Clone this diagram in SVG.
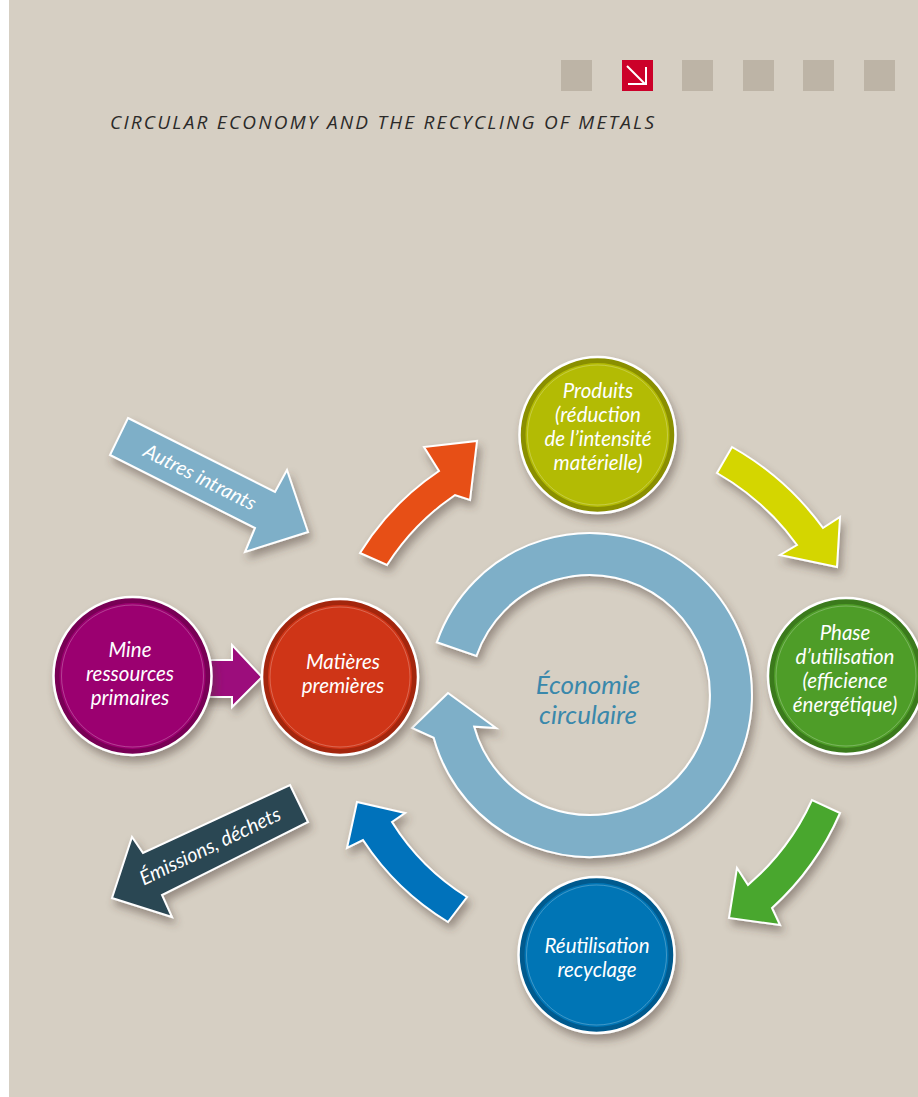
<svg xmlns="http://www.w3.org/2000/svg" width="918" height="1097" viewBox="0 0 918 1097">
<defs>
<filter id="sh" x="-20%" y="-20%" width="150%" height="150%">
<feDropShadow dx="3" dy="6" stdDeviation="4" flood-color="#4a3c30" flood-opacity="0.45"/>
</filter>
<style>
.arr{stroke:#fff;stroke-width:2;stroke-linejoin:miter;filter:url(#sh)}
.lbl{font-family:Lato,"Open Sans","Noto Sans",sans-serif;font-style:italic;fill:#fff;text-anchor:middle}
.ct{font-size:20.5px}
.al{font-size:20px}
.cc{fill:#3a88ab;font-size:26px}
.rim{stroke:#fff;stroke-width:2.5;filter:url(#sh)}
.hl{fill:none;stroke:#fff;stroke-opacity:0.25;stroke-width:1}
.sq{fill:#bdb4a6}
</style>
</defs>
<rect x="0" y="0" width="918" height="1097" fill="#fff"/>
<rect x="9" y="0" width="909" height="1097" fill="#d6cfc3"/>
<g id="header">
<rect class="sq" x="561" y="60" width="31" height="31"/>
<rect x="622" y="60" width="31" height="31" fill="#cc0029"/>
<path d="M627 66 L645 84 M646 67 L646 84 L628 84" fill="none" stroke="#fff" stroke-width="2"/>
<rect class="sq" x="682" y="60" width="31" height="31"/>
<rect class="sq" x="743" y="60" width="31" height="31"/>
<rect class="sq" x="803" y="60" width="31" height="31"/>
<rect class="sq" x="864" y="60" width="31" height="31"/>
<text x="110" y="129" font-family="'Open Sans','Noto Sans',sans-serif" font-style="italic" font-size="19" fill="#2b2a29" textLength="544" lengthAdjust="spacing">CIRCULAR ECONOMY AND THE RECYCLING OF METALS</text>
</g>
<g id="connectors">
<path id="ring" class="arr" fill="#7eafc8" d="M436.8 642.3 A162 162 0 1 1 433.7 737.8 L412 728 L448 693 L496 728 L474.2 726.7 A120 120 0 1 0 476.5 655.9 Z"/>
<path id="arrow-orange" class="arr" fill="#e75017" d="M360 553 A270 270 0 0 1 439 471 L424 447 L477 441 L470 500 L455 495 A241 241 0 0 0 387 565 Z"/>
<path id="arrow-yellow" class="arr" fill="#d4d600" d="M732 447 A286 286 0 0 1 823 528 L840 517 L837 567 L780 555 L797 545 A256 256 0 0 0 717 473 Z"/>
<path id="arrow-green" class="arr" fill="#4aa72e" d="M840 813 A276 276 0 0 1 772 908 L780 925 L729 918 L737 868 L748 885 A246 246 0 0 0 812 800 Z"/>
<path id="arrow-blue" class="arr" fill="#0072bb" d="M448 922 A268 268 0 0 1 363 840 L347 848 L357 802 L405 813 L392 822 A236 236 0 0 0 467 897 Z"/>
<path id="arrow-magenta" class="arr" fill="#9c0b7c" d="M200 660 L232 660 L232 645 L262 677 L232 707 L232 697 L200 697 Z"/>
<g id="autres-intrants">
<path class="arr" fill="#7eafc8" d="M128 418 L275 492 L287 470 L308 532 L245 552 L255 528 L110 455 Z"/>
<text class="lbl al" transform="translate(200,477) rotate(26.7)" y="7">Autres intrants</text>
</g>
<g id="emissions">
<path class="arr" fill="#2c4653" d="M290 785 L308 822 L162 895 L172 917 L112 898 L132 837 L143 853 Z"/>
<text class="lbl al" transform="translate(210,846) rotate(-25.7)" y="7">Émissions, déchets</text>
</g>
</g>
<g id="center-label">
<text class="lbl cc" x="588" y="694">Économie</text>
<text class="lbl cc" x="588" y="724">circulaire</text>
</g>
<g id="node-mine">
<circle class="rim" cx="132.5" cy="676" r="79" fill="#780055"/>
<circle cx="132.5" cy="676" r="73" fill="#9b0070"/>
<circle class="hl" cx="132.5" cy="676" r="71"/>
<text class="lbl ct" x="130" y="657">Mine</text>
<text class="lbl ct" x="130" y="681">ressources</text>
<text class="lbl ct" x="130" y="705">primaires</text>
</g>
<g id="node-matieres">
<circle class="rim" cx="340" cy="677" r="78" fill="#a3260f"/>
<circle cx="340" cy="677" r="72" fill="#cf3517"/>
<circle class="hl" cx="340" cy="677" r="70"/>
<text class="lbl ct" x="343" y="669">Matières</text>
<text class="lbl ct" x="343" y="693">premières</text>
</g>
<g id="node-produits">
<circle class="rim" cx="597.5" cy="435" r="78" fill="#8a8f00"/>
<circle cx="597.5" cy="435" r="72" fill="#b3bb04"/>
<circle class="hl" cx="597.5" cy="435" r="70"/>
<text class="lbl ct" x="598" y="398">Produits</text>
<text class="lbl ct" x="598" y="422">(réduction</text>
<text class="lbl ct" x="598" y="446">de l’intensité</text>
<text class="lbl ct" x="598" y="470">matérielle)</text>
</g>
<g id="node-phase">
<circle class="rim" cx="846" cy="676" r="78" fill="#3a7a1c"/>
<circle cx="846" cy="676" r="72" fill="#4e9d28"/>
<circle class="hl" cx="846" cy="676" r="70"/>
<text class="lbl ct" x="845" y="640">Phase</text>
<text class="lbl ct" x="845" y="664">d’utilisation</text>
<text class="lbl ct" x="845" y="688">(efficience</text>
<text class="lbl ct" x="845" y="712">énergétique)</text>
</g>
<g id="node-reutilisation">
<circle class="rim" cx="596.5" cy="955" r="78" fill="#005a8e"/>
<circle cx="596.5" cy="955" r="72" fill="#0075b5"/>
<circle class="hl" cx="596.5" cy="955" r="70"/>
<text class="lbl ct" x="597" y="953">Réutilisation</text>
<text class="lbl ct" x="597" y="977">recyclage</text>
</g>
</svg>
